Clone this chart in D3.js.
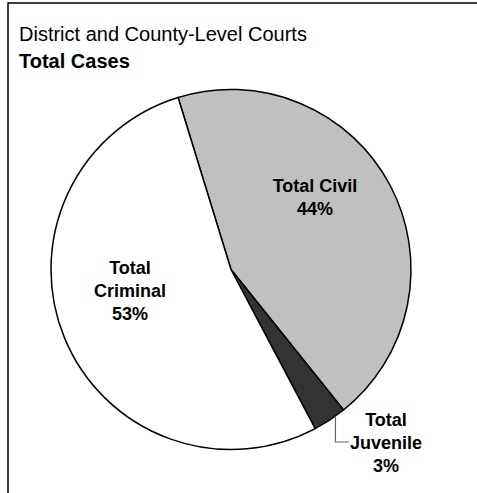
<!DOCTYPE html>
<html>
<head>
<meta charset="utf-8">
<script src="https://cdn.jsdelivr.net/npm/d3@7/dist/d3.min.js"></script>
<style>
  html, body { margin: 0; padding: 0; background: #fff; }
  svg { display: block; font-family: "Liberation Sans", Arial, sans-serif; }
</style>
</head>
<body>
<div id="chart"></div>
<script>
// Case shares by type
const categories = ["Total Civil", "Total Juvenile", "Total Criminal"];
const shares = [44, 3, 53];
const labelLines = [["Total Civil", "44%"], ["Total", "Juvenile", "3%"], ["Total", "Criminal", "53%"]];
const colors = ["#c0c0c0", "#333333", "#ffffff"];

const W = 477, H = 493;
const svg = d3.select("#chart").append("svg").attr("width", W).attr("height", H);

// chart frame (extends past the right and bottom edges)
svg.append("rect")
  .attr("x", 8).attr("y", 3)
  .attr("width", W + 20).attr("height", H + 20)
  .attr("fill", "#fff").attr("stroke", "#000").attr("stroke-width", 1.5);

svg.append("text").attr("x", 19).attr("y", 41)
  .attr("font-size", 20).attr("fill", "#000")
  .text("District and County-Level Courts");
svg.append("text").attr("x", 19).attr("y", 68)
  .attr("font-size", 20).attr("font-weight", "bold").attr("fill", "#000")
  .text("Total Cases");

const cx = 231, cy = 269.5, r = 180;
const start = -17.1 * Math.PI / 180;
const pie = d3.pie().sort(null).value(d => d).startAngle(start).endAngle(start + 2 * Math.PI);
const arcs = pie(shares);
const arc = d3.arc().innerRadius(0).outerRadius(r);

const g = svg.append("g").attr("transform", `translate(${cx},${cy})`);
g.selectAll("path").data(arcs).join("path")
  .attr("d", arc)
  .attr("fill", (d, i) => colors[i])
  .attr("stroke", "#000").attr("stroke-width", 1.5).attr("stroke-linejoin", "round");

// label anchor positions (center x, first baseline)
const labelPos = [[315, 192], [386, 426], [130, 273.5]];
const lineGap = 23;
labelPos.forEach((p, i) => {
  const t = svg.append("text")
    .attr("text-anchor", "middle")
    .attr("font-size", 18).attr("font-weight", "bold").attr("fill", "#000");
  labelLines[i].forEach((s, k) => {
    t.append("tspan").attr("x", p[0]).attr("y", p[1] + k * (i === 0 ? 22.5 : lineGap)).text(s);
  });
});

// leader for the small juvenile slice
const jA = arcs[1].startAngle + 0.3 * (arcs[1].endAngle - arcs[1].startAngle);
const lx = cx + r * Math.sin(jA);
const ly = cy - r * Math.cos(jA);
svg.append("polyline")
  .attr("points", `${lx},${ly} ${lx},442 349,442`)
  .attr("fill", "none").attr("stroke", "#666").attr("stroke-width", 1.2);
</script>
</body>
</html>
